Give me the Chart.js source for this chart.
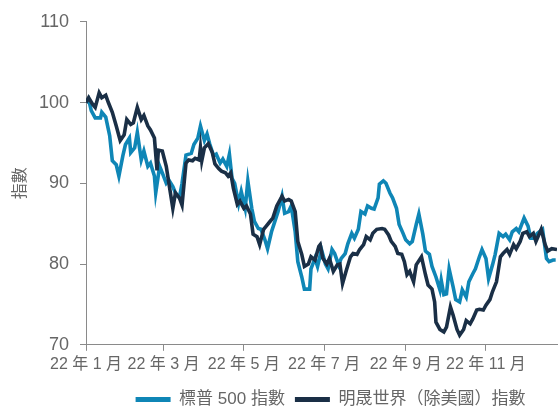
<!DOCTYPE html>
<html>
<head>
<meta charset="utf-8">
<script src="https://cdn.jsdelivr.net/npm/chart.js@4"></script>
<style>
  html, body { margin: 0; padding: 0; background: #fff; }
  #wrap { width: 558px; height: 406px; position: relative; }
</style>
</head>
<body>
<div id="wrap"><canvas id="indexChart"></canvas></div>
<script>
/* ---- Data (x = days since start of 2022, y = rebased index) ---- */
const spDays = [0, 2, 4, 7, 11, 12, 15, 18, 20, 23, 25, 28, 30, 33, 34, 37, 39, 42, 44, 47, 49, 52, 53, 56, 58, 61, 63, 66, 68, 71, 73, 76, 80, 82, 85, 87, 90, 92, 94, 97, 99, 102, 104, 107, 109, 111, 113, 116, 118, 121, 123, 126, 128, 131, 133, 136, 138, 141, 143, 146, 149, 151, 154, 156, 159, 161, 164, 166, 170, 171, 174, 176, 179, 182, 184, 187, 189, 192, 194, 197, 199, 202, 204, 207, 209, 212, 214, 217, 219, 222, 223, 226, 228, 231, 233, 236, 238, 241, 243, 246, 248, 251, 253, 256, 258, 261, 263, 266, 269, 270, 272, 274, 276, 279, 281, 284, 286, 289, 291, 294, 296, 299, 301, 304, 306, 309, 311, 314, 317, 319, 322, 324, 327, 329, 333, 336, 338, 341, 343, 347, 350, 352, 355, 357];
const spValues = [100.0, 100.4, 99.0, 98.1, 98.1, 98.8, 98.2, 95.9, 92.8, 92.3, 90.9, 93.4, 94.8, 95.6, 93.8, 94.4, 96.3, 92.9, 94.0, 92.1, 92.5, 90.9, 88.8, 92.1, 91.3, 90.0, 90.4, 89.6, 88.8, 88.2, 90.0, 93.5, 93.7, 94.8, 95.6, 97.1, 95.3, 96.1, 94.9, 93.4, 93.6, 92.5, 93.0, 92.1, 93.6, 90.6, 90.0, 87.5, 89.0, 86.9, 90.3, 86.9, 85.3, 84.4, 84.3, 83.0, 81.9, 84.0, 85.0, 86.5, 88.4, 86.3, 86.5, 87.2, 84.0, 80.3, 78.4, 76.9, 76.9, 79.4, 80.7, 79.7, 81.8, 80.0, 79.4, 81.8, 81.3, 79.9, 80.7, 81.3, 82.5, 83.8, 83.2, 84.3, 86.5, 86.2, 87.2, 86.9, 86.8, 88.2, 89.9, 90.3, 90.0, 88.8, 88.2, 86.9, 84.9, 83.8, 83.0, 82.5, 82.8, 84.9, 86.2, 83.7, 81.6, 81.2, 79.7, 78.4, 76.8, 78.0, 76.2, 76.3, 79.4, 77.2, 75.6, 75.3, 76.8, 75.9, 77.8, 78.8, 79.4, 80.9, 81.8, 80.7, 78.2, 79.9, 81.2, 83.8, 83.4, 83.7, 83.0, 84.0, 84.4, 84.0, 85.7, 84.7, 83.2, 83.2, 83.8, 84.3, 80.7, 80.3, 80.5, 80.5];

const exUsDays = [0, 2, 5, 7, 10, 12, 15, 17, 20, 23, 25, 26, 29, 31, 34, 36, 39, 42, 44, 47, 49, 52, 54, 55, 58, 61, 63, 66, 68, 71, 73, 76, 78, 81, 83, 86, 87, 88, 90, 93, 96, 98, 101, 103, 106, 108, 110, 112, 115, 117, 120, 122, 125, 127, 130, 132, 135, 137, 140, 142, 145, 149, 151, 154, 156, 159, 161, 164, 166, 169, 171, 174, 177, 178, 180, 183, 185, 188, 191, 193, 195, 198, 201, 203, 206, 208, 211, 213, 216, 218, 221, 225, 227, 230, 232, 235, 237, 240, 242, 244, 246, 249, 251, 255, 258, 260, 263, 265, 266, 269, 272, 274, 277, 279, 282, 284, 287, 289, 292, 294, 297, 299, 302, 304, 307, 309, 312, 315, 317, 320, 322, 325, 327, 330, 332, 335, 337, 340, 342, 346, 349, 351, 354, 358];
const exUsValues = [100.0, 100.6, 99.8, 99.4, 101.2, 100.6, 100.9, 100.0, 98.8, 97.1, 95.9, 95.3, 96.0, 97.9, 97.3, 97.5, 99.4, 97.9, 98.4, 97.1, 96.6, 95.6, 91.6, 94.1, 94.0, 92.1, 90.0, 86.9, 88.8, 88.2, 87.3, 92.5, 92.9, 92.8, 93.1, 92.9, 94.4, 92.8, 94.4, 94.9, 93.8, 92.4, 91.8, 91.5, 91.3, 90.9, 91.3, 89.4, 87.4, 87.8, 86.9, 87.2, 86.2, 83.7, 83.4, 82.4, 84.3, 84.7, 85.3, 85.7, 87.2, 88.4, 87.8, 88.0, 87.8, 86.5, 82.8, 81.2, 79.7, 80.0, 80.9, 80.5, 82.2, 82.4, 80.7, 80.0, 80.7, 79.1, 79.9, 80.0, 77.6, 79.3, 80.9, 81.3, 81.2, 81.8, 82.4, 83.4, 83.0, 83.8, 84.3, 84.4, 84.3, 83.6, 82.8, 82.2, 81.3, 81.2, 80.3, 78.7, 79.1, 77.8, 79.9, 80.9, 78.7, 77.4, 76.9, 75.3, 72.8, 71.9, 71.6, 72.2, 74.7, 73.7, 71.9, 71.2, 71.9, 73.0, 72.6, 73.2, 74.3, 74.4, 74.3, 74.9, 75.6, 76.6, 77.8, 80.9, 81.3, 81.8, 81.2, 82.4, 81.9, 82.8, 83.8, 84.0, 83.4, 83.8, 82.8, 84.3, 82.4, 81.6, 81.9, 81.8];

const tickDays   = [0, 59, 120, 181, 243, 304];
const tickLabels = ["22 年 1 月", "22 年 3 月", "22 年 5 月", "22 年 7 月", "22 年 9 月", "22 年 11 月"];
const yTicks     = [70, 80, 90, 100, 110];

const seriesNames = ["標普 500 指數", "明晟世界（除美國）指數"];

/* ---- Style ---- */
const palette = {
  sp:    "#0f86b6",
  exUs:  "#1a2f46",
  text:  "#666666",
  axis:  "#8a8a8a"
};
const fontFamily = "'Liberation Sans', Arial, 'Noto Sans CJK TC', sans-serif";

const toPoints = (xs, ys) => xs.map((x, i) => ({ x: x, y: ys[i] }));

// legend sits a little right of centre (and low) in the original
const legendShift = {
  id: "legendShift",
  afterLayout(chart) {
    if (!chart.legend) return;
    chart.legend.left += 52;
    chart.legend.right += 52;
    chart.legend.top += 3;
    chart.legend.bottom += 3;
  }
};

new Chart(document.getElementById("indexChart"), {
  type: "line",
  data: {
    datasets: [
      {
        label: seriesNames[0],
        data: toPoints(spDays, spValues),
        borderColor: palette.sp,
        backgroundColor: palette.sp,
        borderWidth: 3.6,
        pointRadius: 0,
        tension: 0,
        order: 1
      },
      {
        label: seriesNames[1],
        data: toPoints(exUsDays, exUsValues),
        borderColor: palette.exUs,
        backgroundColor: palette.exUs,
        borderWidth: 3.6,
        pointRadius: 0,
        tension: 0,
        order: 0
      }
    ]
  },
  plugins: [legendShift],
  options: {
    responsive: true,
    maintainAspectRatio: false,
    animation: false,
    layout: { padding: { top: 16, right: 1, left: 0, bottom: -9 } },
    plugins: {
      tooltip: { enabled: false },
      legend: {
        position: "bottom",
        labels: {
          color: palette.text,
          font: { family: fontFamily, size: 17 },
          boxWidth: 35,
          boxHeight: 5,
          padding: 10,
          generateLabels: (chart) => {
            const items = Chart.defaults.plugins.legend.labels.generateLabels(chart);
            items.forEach(it => { it.lineWidth = 0; });
            return items.sort((a, b) => a.datasetIndex - b.datasetIndex);
          }
        }
      }
    },
    scales: {
      x: {
        type: "linear",
        min: 0,
        max: 358,
        afterBuildTicks: (axis) => {
          axis.ticks = tickDays.map(v => ({ value: v }));
        },
        ticks: {
          autoSkip: false,
          maxRotation: 0,
          color: palette.text,
          font: { family: fontFamily, size: 16 },
          padding: 4,
          callback: (value) => {
            const i = tickDays.indexOf(value);
            return i >= 0 ? tickLabels[i] : null;
          }
        },
        grid: {
          drawOnChartArea: false,
          tickLength: 6,
          color: palette.axis
        },
        border: { color: palette.axis, width: 1 }
      },
      y: {
        min: 70,
        max: 110,
        afterBuildTicks: (axis) => {
          axis.ticks = yTicks.map(v => ({ value: v }));
        },
        afterFit: (axis) => { axis.width = 86; },
        ticks: {
          color: palette.text,
          font: { family: fontFamily, size: 18 },
          padding: 11
        },
        grid: {
          drawOnChartArea: false,
          tickLength: 6,
          color: palette.axis
        },
        border: { color: palette.axis, width: 1 },
        title: {
          display: true,
          text: "指數",
          color: palette.text,
          font: { family: fontFamily, size: 16 },
          padding: { top: 11, bottom: 0 }
        }
      }
    }
  }
});
</script>
</body>
</html>
